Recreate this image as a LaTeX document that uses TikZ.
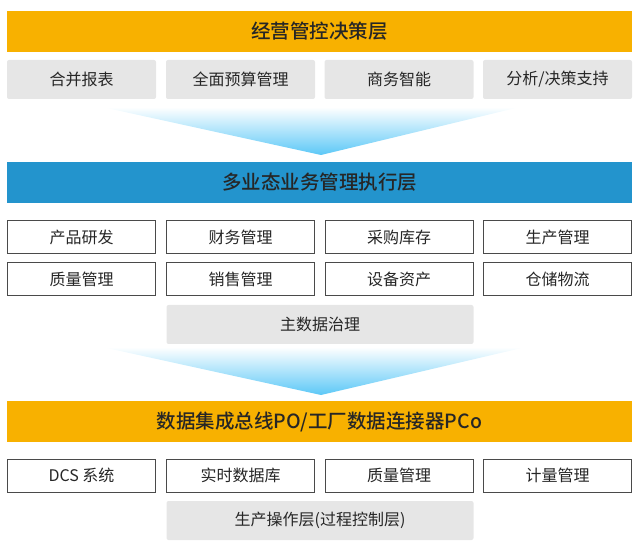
\documentclass[tikz,border=0pt]{standalone}
\usepackage{fontspec}
\setmainfont{Noto Sans CJK SC}[BoldFont={Noto Sans CJK SC Medium}]
\definecolor{layerorange}{HTML}{F8B100}
\definecolor{layerblue}{HTML}{2394CD}
\definecolor{boxgray}{HTML}{E6E6E6}
\definecolor{boxline}{HTML}{4A4A4A}
\definecolor{funnelblue}{HTML}{5CC8F7}
\definecolor{textdark}{HTML}{262626}
\tikzset{
    layerbar/.style={minimum width=625pt, minimum height=41pt, inner sep=0pt,
        text=textdark, font=\fontsize{19.5}{22}\selectfont\bfseries},
    graybox/.style={fill=boxgray, rounded corners=2pt, minimum width=149pt,
        minimum height=39pt, inner sep=0pt, text=textdark, font=\fontsize{16}{18}\selectfont},
    linebox/.style={draw=boxline, line width=1pt, fill=white, minimum width=148pt,
        minimum height=33pt, inner sep=0pt, text=textdark, font=\fontsize{16}{18}\selectfont},
    funnel/.style={top color=white, bottom color=funnelblue}
}
\begin{document}
\begin{tikzpicture}[x=1pt, y=-1pt]
        \useasboundingbox (0, 0) rectangle (640, 553);

        % decision layer
        \node[layerbar, fill=layerorange] (decision) at (319.5, 31.5) {经营管控决策层};
        \node[graybox] (consol) at (81.5, 79.5) {合并报表};
        \node[graybox] (budget) at (240.5, 79.5) {全面预算管理};
        \node[graybox] (bi) at (399, 79.5) {商务智能};
        \node[graybox] (analysis) at (557.5, 79.5) {分析/决策支持};

        \shade[funnel] (102, 107) -- (520, 107) -- (321, 155) -- cycle;

        % execution layer
        \node[layerbar, fill=layerblue] (execution) at (319.5, 182.5) {多业态业务管理执行层};
        \node[linebox] (rnd) at (81.5, 237.5) {产品研发};
        \node[linebox] (finance) at (240.5, 237.5) {财务管理};
        \node[linebox] (purchase) at (399, 237.5) {采购库存};
        \node[linebox] (production) at (557.5, 237.5) {生产管理};
        \node[linebox] (quality) at (81.5, 279.5) {质量管理};
        \node[linebox] (sales) at (240.5, 279.5) {销售管理};
        \node[linebox] (assets) at (399, 279.5) {设备资产};
        \node[linebox] (logistics) at (557.5, 279.5) {仓储物流};
        \node[graybox, minimum width=307pt] (masterdata) at (320, 324.5) {主数据治理};

        \shade[funnel] (102, 347) -- (526, 347) -- (321, 395) -- cycle;

        % integration layer
        \node[layerbar, fill=layerorange] (integration) at (319.5, 421.5) {数据集成总线PO/工厂数据连接器PCo};
        \node[linebox] (dcs) at (81.5, 475.5) {DCS 系统};
        \node[linebox] (rtdb) at (240.5, 475.5) {实时数据库};
        \node[linebox] (qm) at (399, 475.5) {质量管理};
        \node[linebox] (metering) at (557.5, 475.5) {计量管理};
        \node[graybox, minimum width=307pt] (operation) at (320, 520.5) {生产操作层(过程控制层)};
    \end{tikzpicture}
\end{document}
